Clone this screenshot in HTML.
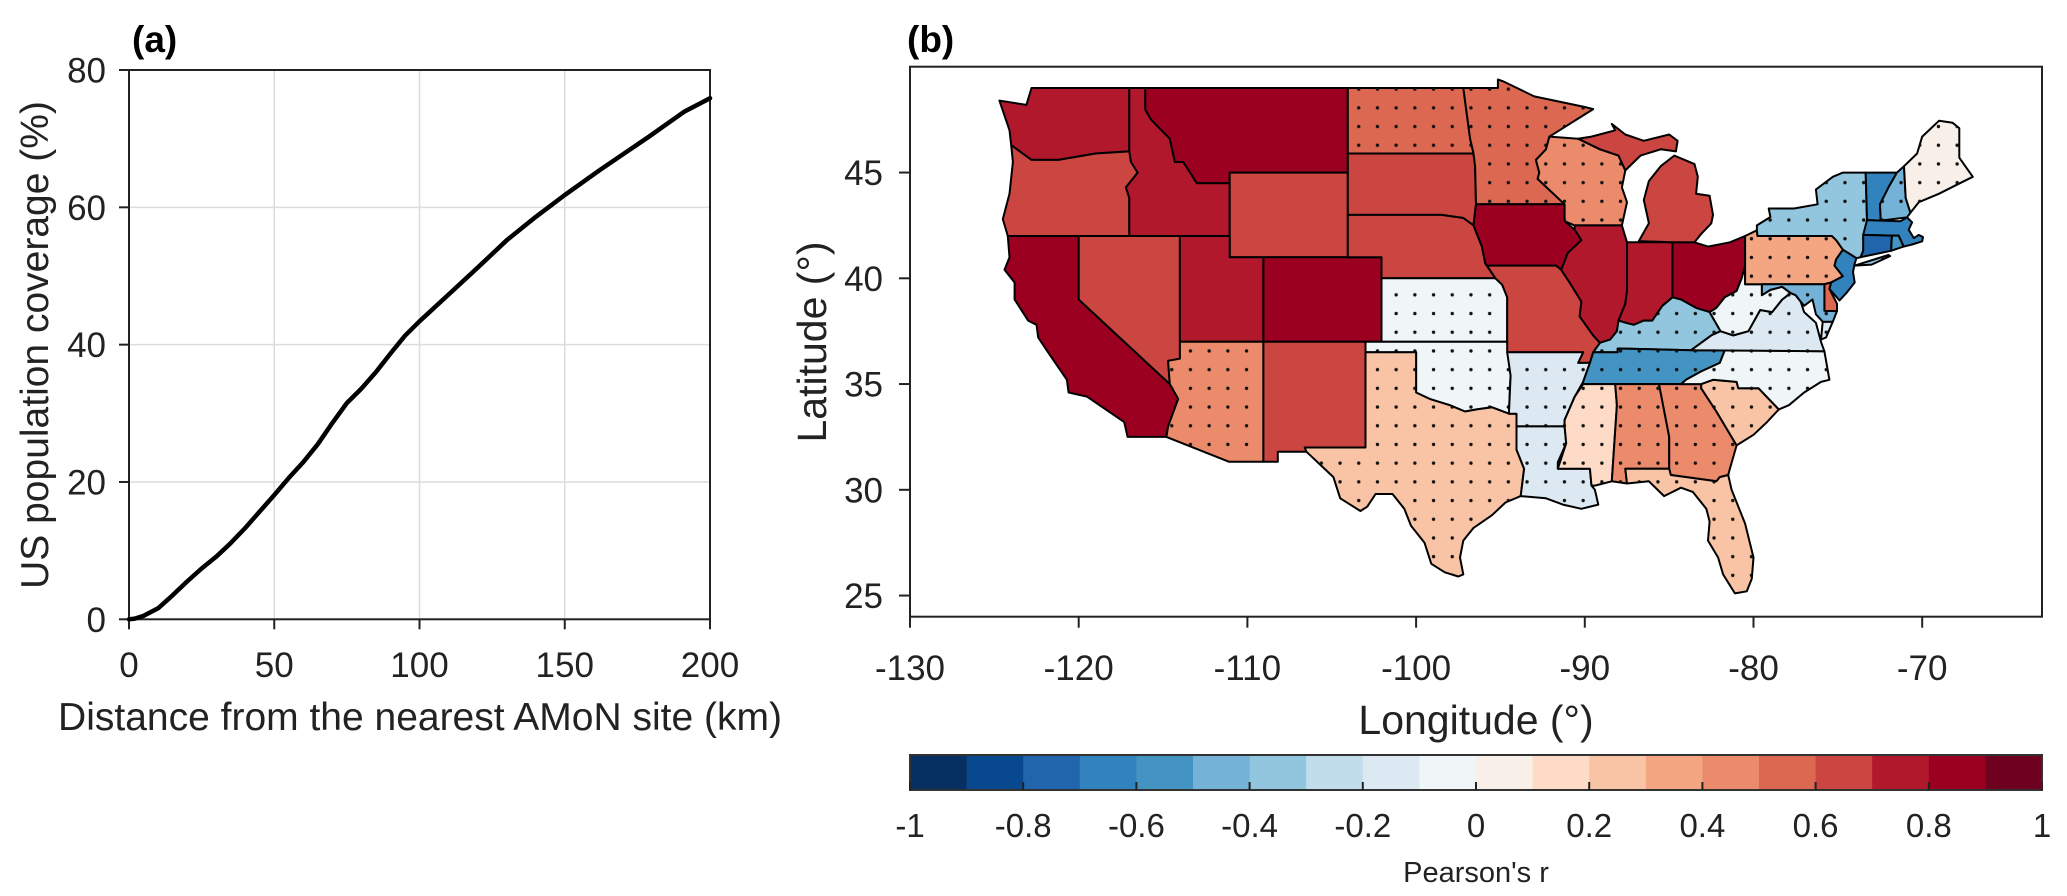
<!DOCTYPE html>
<html><head><meta charset="utf-8"><title>Population coverage and Pearson's r map</title>
<style>
html,body{margin:0;padding:0;background:#fff;}
svg{display:block;font-family:"Liberation Sans",Arial,sans-serif;}
</style></head>
<body>
<svg id="fig" width="2067" height="896" viewBox="0 0 2067 896" xmlns="http://www.w3.org/2000/svg">
<defs>
<pattern id="dots" patternUnits="userSpaceOnUse" width="18.7" height="18.7" x="3" y="5">
<circle cx="9.35" cy="9.35" r="1.7" fill="#111"/>
</pattern>
</defs>
<g id="panelA"></g>
<g id="panelB"></g>
</svg>
<script>
// ---------- Panel (a) data ----------
const distKm = [0, 2, 5, 10, 15, 20, 25, 30, 35, 40, 45, 50, 55, 60, 65, 70, 75, 80, 85, 90, 95, 100, 110, 120, 130, 140, 150, 162, 179, 191, 200];
const coveragePct = [0, 0.1, 0.5, 1.6, 3.5, 5.5, 7.4, 9.1, 11.1, 13.3, 15.7, 18.1, 20.6, 22.9, 25.5, 28.6, 31.5, 33.6, 36.0, 38.7, 41.3, 43.4, 47.3, 51.2, 55.2, 58.6, 61.8, 65.4, 70.3, 73.9, 75.9];
const aXTicks = [0, 50, 100, 150, 200];
const aYTicks = [0, 20, 40, 60, 80];

// ---------- Panel (b) data ----------
const stateNames = ["WA","OR","CA","NV","ID","MT","WY","UT","CO","AZ","NM","ND","SD","NE","KS","OK","TX","MN","IA","MO","AR","LA","WI","IL","IN","OH","MI","KY","TN","MS","AL","GA","FL","SC","NC","VA","WV","PA","NY","VT","NH","ME","MA","RI","CT","NJ","DE","MD"];
const stateR = [0.75,0.65,0.85,0.65,0.75,0.85,0.65,0.75,0.85,0.45,0.65,0.55,0.65,0.65,-0.05,-0.05,0.25,0.55,0.85,0.65,-0.15,-0.15,0.45,0.75,0.75,0.85,0.65,-0.35,-0.55,0.15,0.45,0.45,0.25,0.25,-0.05,-0.15,-0.05,0.35,-0.35,-0.65,-0.45,0.05,-0.65,-0.55,-0.75,-0.65,0.55,-0.45];
const stateDotted = [0,0,0,0,0,0,0,0,0,1,0,1,0,0,1,1,1,1,0,0,1,1,1,0,0,0,0,1,1,1,1,1,1,1,1,1,1,1,1,0,1,1,0,0,0,0,0,1];
const lonTicks = [-130,-120,-110,-100,-90,-80,-70];
const latTicks = [25,30,35,40,45];
const cbarTicks = [-1,-0.8,-0.6,-0.4,-0.2,0,0.2,0.4,0.6,0.8,1];
const cbarColors = ["#053061","#08488e","#2166ac","#3282bd","#4393c3","#74b2d7","#92c5de","#c1ddec","#dce9f2","#f0f5f8","#f9efe9","#fddbc7","#f9c4a5","#f4a582","#ec8b6c","#dd6852","#cb4541","#b2182b","#9b0021","#6e0020"];

// state outlines (lon, lat)
const stateShapes = {
WA:[[[-124.7,48.4],[-123.1,48.2],[-122.8,49.0],[-117.0,49.0],[-117.0,46.0],[-119.0,45.9],[-121.2,45.6],[-122.8,45.6],[-124.0,46.3],[-124.1,47.0]]],
OR:[[[-124.0,46.3],[-122.8,45.6],[-121.2,45.6],[-119.0,45.9],[-117.0,46.0],[-116.9,45.5],[-116.5,45.0],[-117.2,44.3],[-117.0,43.8],[-117.0,42.0],[-124.2,42.0],[-124.5,42.8],[-124.1,44.0],[-123.9,45.5]]],
CA:[[[-124.2,42.0],[-120.0,42.0],[-120.0,39.0],[-114.6,35.0],[-114.1,34.3],[-114.7,33.0],[-114.8,32.5],[-117.1,32.5],[-117.3,33.2],[-118.4,33.8],[-119.5,34.4],[-120.6,34.6],[-120.7,35.2],[-121.9,36.6],[-122.4,37.2],[-122.5,37.8],[-123.0,38.0],[-123.8,39.0],[-123.8,39.8],[-124.4,40.4],[-124.1,41.0]]],
NV:[[[-120.0,42.0],[-114.0,42.0],[-114.0,36.2],[-114.7,36.1],[-114.6,35.0],[-120.0,39.0]]],
ID:[[[-117.0,49.0],[-116.05,49.0],[-116.05,47.97],[-115.7,47.5],[-114.6,46.6],[-114.3,45.5],[-113.8,45.5],[-113.0,44.5],[-111.05,44.5],[-111.05,42.0],[-117.0,42.0],[-117.0,43.8],[-117.2,44.3],[-116.5,45.0],[-116.9,45.5],[-117.0,46.0]]],
MT:[[[-116.05,49.0],[-104.05,49.0],[-104.05,45.0],[-111.05,45.0],[-111.05,44.5],[-113.0,44.5],[-113.8,45.5],[-114.3,45.5],[-114.6,46.6],[-115.7,47.5],[-116.05,47.97]]],
WY:[[[-111.05,45.0],[-104.05,45.0],[-104.05,41.0],[-111.05,41.0]]],
UT:[[[-114.0,42.0],[-111.05,42.0],[-111.05,41.0],[-109.05,41.0],[-109.05,37.0],[-114.0,37.0]]],
CO:[[[-109.05,41.0],[-102.05,41.0],[-102.05,37.0],[-109.05,37.0]]],
AZ:[[[-114.0,37.0],[-109.05,37.0],[-109.05,31.33],[-111.1,31.33],[-114.8,32.5],[-114.7,33.0],[-114.1,34.3],[-114.6,35.0],[-114.7,36.1],[-114.0,36.2]]],
NM:[[[-109.05,37.0],[-103.0,37.0],[-103.0,32.0],[-106.6,32.0],[-106.5,31.8],[-108.2,31.8],[-108.2,31.33],[-109.05,31.33]]],
ND:[[[-104.05,49.0],[-97.2,49.0],[-96.8,46.6],[-96.6,45.9],[-104.05,45.9]]],
SD:[[[-104.05,45.9],[-96.6,45.9],[-96.5,45.3],[-96.45,43.5],[-96.6,42.5],[-97.2,42.85],[-98.5,43.0],[-104.05,43.0]]],
NE:[[[-104.05,43.0],[-98.5,43.0],[-97.2,42.85],[-96.6,42.5],[-96.1,41.5],[-95.9,40.7],[-95.3,40.0],[-102.05,40.0],[-102.05,41.0],[-104.05,41.0]]],
KS:[[[-102.05,40.0],[-95.3,40.0],[-94.9,39.7],[-94.6,39.1],[-94.6,37.0],[-102.05,37.0]]],
OK:[[[-103.0,37.0],[-94.6,37.0],[-94.4,35.4],[-94.5,33.6],[-95.5,33.9],[-96.4,33.8],[-97.1,33.7],[-98.0,34.0],[-99.2,34.3],[-100.0,34.6],[-100.0,36.5],[-103.0,36.5]]],
TX:[[[-103.0,36.5],[-100.0,36.5],[-100.0,34.6],[-99.2,34.3],[-98.0,34.0],[-97.1,33.7],[-96.4,33.8],[-95.5,33.9],[-94.5,33.6],[-94.05,33.6],[-94.05,31.9],[-93.6,31.0],[-93.8,29.7],[-94.7,29.4],[-95.5,28.8],[-96.6,28.2],[-97.2,27.6],[-97.4,26.8],[-97.2,26.0],[-97.5,25.9],[-98.3,26.1],[-99.1,26.5],[-99.5,27.5],[-100.3,28.3],[-100.7,29.1],[-101.4,29.8],[-102.4,29.8],[-102.9,29.2],[-103.3,29.0],[-104.5,29.6],[-104.9,30.6],[-106.5,31.8],[-106.6,32.0],[-103.0,32.0]]],
MN:[[[-97.2,49.0],[-95.15,49.0],[-95.15,49.4],[-94.8,49.3],[-93.0,48.6],[-90.0,48.1],[-89.5,48.0],[-91.5,47.0],[-92.1,46.7],[-92.3,46.1],[-92.9,45.6],[-92.7,45.0],[-92.8,44.7],[-91.2,43.5],[-96.45,43.5],[-96.5,45.3],[-96.6,45.9],[-96.8,46.6]]],
IA:[[[-96.45,43.5],[-91.2,43.5],[-91.2,42.7],[-90.6,42.3],[-90.2,41.8],[-91.0,41.2],[-91.4,40.4],[-91.7,40.6],[-95.8,40.6],[-95.9,40.7],[-96.1,41.5],[-96.6,42.5]]],
MO:[[[-95.8,40.6],[-91.7,40.6],[-91.4,40.4],[-90.9,39.8],[-90.2,38.9],[-90.3,38.2],[-89.5,37.3],[-89.1,36.95],[-89.5,36.5],[-89.7,36.0],[-90.4,36.0],[-90.1,36.5],[-94.6,36.5],[-94.6,39.1],[-94.9,39.7],[-95.3,40.0]]],
AR:[[[-94.6,36.5],[-90.1,36.5],[-90.4,36.0],[-89.7,36.0],[-90.1,35.1],[-90.6,34.4],[-91.2,33.3],[-91.2,33.0],[-94.05,33.0],[-94.05,33.6],[-94.5,33.6],[-94.4,35.4]]],
LA:[[[-94.05,33.0],[-91.2,33.0],[-91.1,32.2],[-91.6,31.3],[-91.6,31.0],[-89.7,31.0],[-89.6,30.2],[-89.4,30.0],[-89.2,29.3],[-90.2,29.1],[-91.3,29.3],[-92.3,29.6],[-93.8,29.7],[-93.6,31.0],[-94.05,31.9]]],
WI:[[[-92.1,46.7],[-90.4,46.6],[-89.1,46.1],[-88.0,45.8],[-87.6,45.1],[-87.8,44.3],[-87.5,43.6],[-87.8,42.5],[-90.6,42.5],[-91.2,42.7],[-91.2,43.5],[-92.8,44.7],[-92.7,45.0],[-92.9,45.6],[-92.3,46.1]]],
IL:[[[-90.6,42.5],[-87.8,42.5],[-87.5,41.7],[-87.5,39.4],[-87.6,38.8],[-88.0,38.0],[-88.1,37.5],[-88.5,37.1],[-89.1,36.95],[-89.5,37.3],[-90.3,38.2],[-90.2,38.9],[-90.9,39.8],[-91.4,40.4],[-91.0,41.2],[-90.2,41.8],[-90.6,42.3]]],
IN:[[[-87.5,41.7],[-84.8,41.7],[-84.8,39.1],[-85.4,38.7],[-86.0,38.0],[-86.5,38.0],[-87.1,37.8],[-87.6,37.9],[-88.0,38.0],[-87.6,38.8],[-87.5,39.4]]],
OH:[[[-84.8,41.7],[-83.5,41.7],[-82.7,41.5],[-81.4,41.7],[-80.5,42.0],[-80.5,40.6],[-80.7,40.0],[-81.0,39.4],[-81.7,39.1],[-82.2,38.6],[-82.6,38.4],[-83.4,38.6],[-84.3,39.0],[-84.8,39.1]]],
MI:[[[-86.8,41.76],[-84.8,41.7],[-83.5,41.7],[-83.1,42.1],[-82.5,42.6],[-82.4,43.0],[-82.6,43.9],[-83.4,44.0],[-83.3,44.8],[-83.5,45.4],[-84.7,45.8],[-85.5,45.3],[-86.2,44.6],[-86.5,43.7],[-86.2,42.6]],
    [[-90.4,46.6],[-89.1,46.1],[-88.0,45.8],[-87.6,45.1],[-86.7,45.8],[-85.5,46.1],[-84.6,46.0],[-84.5,46.5],[-85.0,46.8],[-86.5,46.5],[-87.6,46.8],[-88.4,47.3],[-88.2,47.0],[-89.6,46.7]]],
KY:[[[-89.5,36.5],[-88.05,36.5],[-88.05,36.68],[-83.7,36.6],[-82.5,37.3],[-81.95,37.5],[-82.6,38.4],[-83.4,38.6],[-84.3,39.0],[-84.8,39.1],[-85.4,38.7],[-86.0,38.0],[-86.5,38.0],[-87.1,37.8],[-87.6,37.9],[-88.0,38.0],[-88.1,37.5],[-88.5,37.1],[-89.1,36.95]]],
TN:[[[-90.1,35.0],[-88.2,35.0],[-85.6,35.0],[-84.3,35.0],[-84.0,35.2],[-83.1,35.6],[-82.0,36.0],[-81.7,36.6],[-83.7,36.6],[-88.05,36.68],[-88.05,36.5],[-89.5,36.5],[-89.7,36.0],[-90.1,35.1]]],
MS:[[[-90.1,35.0],[-88.2,35.0],[-88.1,34.0],[-88.4,30.4],[-89.4,30.2],[-89.6,30.2],[-89.7,31.0],[-91.6,31.0],[-91.1,32.2],[-91.2,33.0],[-91.2,33.3],[-90.6,34.4]]],
AL:[[[-88.2,35.0],[-85.6,35.0],[-85.0,32.5],[-85.0,31.0],[-87.6,31.0],[-87.5,30.3],[-88.4,30.4],[-88.1,34.0]]],
GA:[[[-85.6,35.0],[-83.1,35.0],[-83.1,34.8],[-82.2,33.7],[-81.0,32.1],[-81.4,31.0],[-81.5,30.7],[-82.0,30.6],[-82.2,30.4],[-84.9,30.7],[-85.0,31.0],[-85.0,32.5]]],
FL:[[[-87.6,31.0],[-85.0,31.0],[-84.9,30.7],[-82.2,30.4],[-82.0,30.6],[-81.5,30.7],[-81.3,30.0],[-80.5,28.4],[-80.0,26.8],[-80.1,25.8],[-80.4,25.2],[-81.1,25.1],[-81.8,26.0],[-82.1,26.8],[-82.7,27.6],[-82.6,28.5],[-82.8,29.1],[-83.6,29.9],[-84.3,30.1],[-85.3,29.7],[-86.2,30.4],[-87.5,30.3]]],
SC:[[[-83.1,35.0],[-82.4,35.2],[-81.0,35.1],[-80.9,34.8],[-79.7,34.8],[-78.5,33.8],[-79.2,33.2],[-80.0,32.6],[-81.0,32.1],[-82.2,33.7],[-83.1,34.8]]],
NC:[[[-84.3,35.0],[-83.1,35.0],[-82.4,35.2],[-81.0,35.1],[-80.9,34.8],[-79.7,34.8],[-78.5,33.8],[-77.9,34.0],[-77.0,34.6],[-76.0,35.1],[-75.5,35.2],[-75.8,36.55],[-81.7,36.6],[-82.0,36.0],[-83.1,35.6],[-84.0,35.2]]],
VA:[[[-83.7,36.6],[-75.8,36.55],[-76.0,37.0],[-76.3,37.9],[-77.0,38.4],[-77.2,38.9],[-77.5,39.2],[-77.8,39.3],[-78.3,39.0],[-78.9,38.4],[-79.6,38.5],[-80.3,37.5],[-81.2,37.3],[-81.95,37.5],[-82.5,37.3]],
    [[-75.9,37.95],[-75.3,37.95],[-75.7,37.2],[-76.0,37.1]]],
WV:[[[-82.6,38.4],[-81.95,37.5],[-81.2,37.3],[-80.3,37.5],[-79.6,38.5],[-78.9,38.4],[-78.3,39.0],[-77.8,39.3],[-78.3,39.6],[-79.0,39.45],[-79.5,39.2],[-79.5,39.72],[-80.5,39.72],[-80.5,40.6],[-80.7,40.0],[-81.0,39.4],[-81.7,39.1],[-82.2,38.6]]],
PA:[[[-80.5,42.0],[-79.8,42.27],[-79.76,42.0],[-75.35,42.0],[-75.1,41.8],[-74.7,41.35],[-75.1,40.9],[-75.2,40.6],[-74.7,40.1],[-75.4,39.8],[-75.8,39.72],[-80.5,39.72]]],
NY:[[[-79.76,42.0],[-75.35,42.0],[-75.1,41.8],[-74.7,41.35],[-73.9,40.95],[-73.65,41.0],[-73.5,41.3],[-73.27,42.75],[-73.35,45.0],[-74.7,45.0],[-75.3,44.8],[-76.3,44.2],[-76.2,43.5],[-77.6,43.3],[-79.1,43.3],[-79.0,42.9],[-79.8,42.5],[-79.8,42.27]],
    [[-74.0,40.6],[-72.0,41.1],[-71.9,41.05],[-73.0,40.65]]],
VT:[[[-73.27,42.75],[-72.46,42.73],[-72.5,43.5],[-72.0,44.3],[-71.5,45.0],[-73.35,45.0],[-73.3,43.6]]],
NH:[[[-72.46,42.73],[-70.9,42.88],[-70.7,43.1],[-70.98,43.8],[-71.08,45.3],[-71.5,45.0],[-72.0,44.3],[-72.5,43.5]]],
ME:[[[-70.7,43.1],[-70.2,43.6],[-69.0,44.0],[-68.0,44.4],[-67.0,44.8],[-67.8,45.7],[-67.8,47.1],[-68.2,47.35],[-69.0,47.45],[-70.0,46.7],[-70.3,45.9],[-71.08,45.3],[-70.98,43.8]]],
MA:[[[-73.5,42.05],[-71.8,42.02],[-71.4,42.02],[-71.1,41.5],[-70.6,41.6],[-70.0,41.75],[-69.95,41.95],[-70.2,42.05],[-70.5,41.9],[-70.8,42.3],[-70.6,42.65],[-70.9,42.88],[-71.3,42.7],[-72.46,42.73],[-73.27,42.75]]],
RI:[[[-71.85,41.3],[-71.1,41.5],[-71.4,42.02],[-71.8,42.02]]],
CT:[[[-73.65,41.0],[-71.85,41.3],[-71.8,42.02],[-73.5,42.05],[-73.5,41.3]]],
NJ:[[[-74.7,41.35],[-73.9,40.95],[-74.0,40.7],[-74.1,40.3],[-74.0,39.8],[-74.5,39.3],[-74.9,38.95],[-75.5,39.5],[-75.4,39.8],[-74.7,40.1],[-75.2,40.6],[-75.1,40.9]]],
DE:[[[-75.8,39.72],[-75.4,39.8],[-75.5,39.5],[-75.05,38.8],[-75.05,38.45],[-75.8,38.46]]],
MD:[[[-79.5,39.72],[-75.8,39.72],[-75.8,38.46],[-75.05,38.45],[-75.3,37.95],[-75.9,37.95],[-76.3,38.3],[-76.5,39.0],[-77.0,38.7],[-77.2,38.9],[-77.5,39.2],[-77.8,39.3],[-78.3,39.6],[-79.0,39.45],[-79.5,39.2]]]
};

const NS = "http://www.w3.org/2000/svg";
function mk(tag, attrs, parent, txt) {
  const e = document.createElementNS(NS, tag);
  for (const k in attrs) e.setAttribute(k, attrs[k]);
  if (txt !== undefined) e.textContent = txt;
  parent.appendChild(e);
  return e;
}
const TICK_FS = 35, TITLE_FS = 39;

// ---------- Panel (a) ----------
const A = document.getElementById('panelA');
const aL = 129, aR = 710, aT = 70, aB = 619.3;
const ax = v => aL + (v - 0) / 200 * (aR - aL);
const ay = v => aB - (v - 0) / 80 * (aB - aT);

aXTicks.forEach(t => {
  if (t > 0 && t < 200) {
    const g = mk('line', {x1: ax(t), x2: ax(t), y1: aT, y2: aB, stroke: '#dcdcdc', 'stroke-width': 1.5}, A);
    
    
  }
  const tk = mk('line', {x1: ax(t), x2: ax(t), y1: aB, y2: aB + 10, stroke: '#222', 'stroke-width': 2}, A);
  
  
  const lb = mk('text', {x: ax(t), y: 677, 'text-anchor': 'middle', 'font-size': TICK_FS, fill: '#222'}, A, String(t));
  
  
});
aYTicks.forEach(t => {
  if (t > 0 && t < 80) {
    const g = mk('line', {x1: aL, x2: aR, y1: ay(t), y2: ay(t), stroke: '#dcdcdc', 'stroke-width': 1.5}, A);
    
    
  }
  const tk = mk('line', {x1: aL - 10, x2: aL, y1: ay(t), y2: ay(t), stroke: '#222', 'stroke-width': 2}, A);
  
  
  const lb = mk('text', {x: 106, y: ay(t) + 12.5, 'text-anchor': 'end', 'font-size': TICK_FS, fill: '#222'}, A, String(t));
  
  
});
const aBox = mk('rect', {x: aL, y: aT, width: aR - aL, height: aB - aT, fill: 'none', stroke: '#222', 'stroke-width': 2}, A);



let dStr = '';
distKm.forEach((d, i) => { dStr += (i ? 'L' : 'M') + ax(d).toFixed(1) + ',' + ay(coveragePct[i]).toFixed(1); });
const curve = mk('path', {d: dStr, fill: 'none', stroke: '#000', 'stroke-width': 4.5, 'stroke-linejoin': 'round', 'stroke-linecap': 'round'}, A);



const at = mk('text', {x: 132, y: 52, 'font-size': 37, 'font-weight': 'bold', fill: '#000'}, A, '(a)');


const axt = mk('text', {x: 420, y: 730, 'text-anchor': 'middle', 'font-size': TITLE_FS, fill: '#222'}, A, 'Distance from the nearest AMoN site (km)');


const ayt = mk('text', {x: 0, y: 0, 'text-anchor': 'middle', 'font-size': TITLE_FS, fill: '#222', transform: 'translate(48,345) rotate(-90)'}, A, 'US population coverage (%)');



// ---------- Panel (b) ----------
const B = document.getElementById('panelB');
const mL = 910, mR = 2042, mT = 66.7, mB = 616.7;
const px = lon => mL + (lon + 130) * 16.87;
const py = lat => mB - (lat - 24) * 21.15;
const colorFor = v => cbarColors[Math.max(0, Math.min(19, Math.floor((v + 1) / 0.1 + 1e-9)))];

const mapG = mk('g', {}, B);


let allD = '';
stateNames.forEach((s, i) => {
  const rings = stateShapes[s];
  let d = '';
  rings.forEach(r => { r.forEach((p, j) => { d += (j ? 'L' : 'M') + px(p[0]).toFixed(1) + ',' + py(p[1]).toFixed(1); }); d += 'Z'; });
  allD += d;
  const p = mk('path', {d: d, fill: colorFor(stateR[i]), stroke: '#000', 'stroke-width': 2, 'stroke-linejoin': 'round'}, mapG);
  
  
  if (stateDotted[i]) {
    const q = mk('path', {d: d, fill: 'url(#dots)', stroke: 'none'}, mapG);
    
    
  }
});

const bBox = mk('rect', {x: mL, y: mT, width: mR - mL, height: mB - mT, fill: 'none', stroke: '#222', 'stroke-width': 2}, B);



lonTicks.forEach(t => {
  const tk = mk('line', {x1: px(t), x2: px(t), y1: mB, y2: mB + 11, stroke: '#222', 'stroke-width': 2}, B);
  
  
  const lb = mk('text', {x: px(t), y: 680, 'text-anchor': 'middle', 'font-size': TICK_FS, fill: '#222'}, B, String(t));
  
  
});
latTicks.forEach(t => {
  const tk = mk('line', {x1: mL - 11, x2: mL, y1: py(t), y2: py(t), stroke: '#222', 'stroke-width': 2}, B);
  
  
  const lb = mk('text', {x: 883, y: py(t) + 12.5, 'text-anchor': 'end', 'font-size': TICK_FS, fill: '#222'}, B, String(t));
  
  
});
const bt = mk('text', {x: 907, y: 52, 'font-size': 37, 'font-weight': 'bold', fill: '#000'}, B, '(b)');


const lonT = mk('text', {x: (mL + mR) / 2, y: 734, 'text-anchor': 'middle', 'font-size': 41, fill: '#222'}, B, 'Longitude (°)');


const latT = mk('text', {x: 0, y: 0, 'text-anchor': 'middle', 'font-size': 41, fill: '#222', transform: 'translate(826,342) rotate(-90)'}, B, 'Latitude (°)');



// colorbar
const cbL = 910, cbR = 2042, cbT = 755, cbBt = 790;
const cx = v => cbL + (v + 1) / 2 * (cbR - cbL);
const cbG = mk('g', {}, B);


cbarColors.forEach((c, i) => {
  const v0 = -1 + i * 0.1;
  const r = mk('rect', {x: cx(v0), y: cbT, width: cx(v0 + 0.1) - cx(v0) + 0.5, height: cbBt - cbT, fill: c}, cbG);
  
  
});
const cbBox = mk('rect', {x: cbL, y: cbT, width: cbR - cbL, height: cbBt - cbT, fill: 'none', stroke: '#333', 'stroke-width': 2}, cbG);


cbarTicks.forEach(t => {
  const tk = mk('line', {x1: cx(t), x2: cx(t), y1: cbBt - 8, y2: cbBt, stroke: '#222', 'stroke-width': 2}, cbG);
  
  
  const lb = mk('text', {x: cx(t), y: 837, 'text-anchor': 'middle', 'font-size': 33, fill: '#222'}, cbG, String(t));
  
  
});
const cbT2 = mk('text', {x: (cbL + cbR) / 2, y: 882, 'text-anchor': 'middle', 'font-size': 29, fill: '#222'}, cbG, "Pearson's r");


</script>
</body></html>
